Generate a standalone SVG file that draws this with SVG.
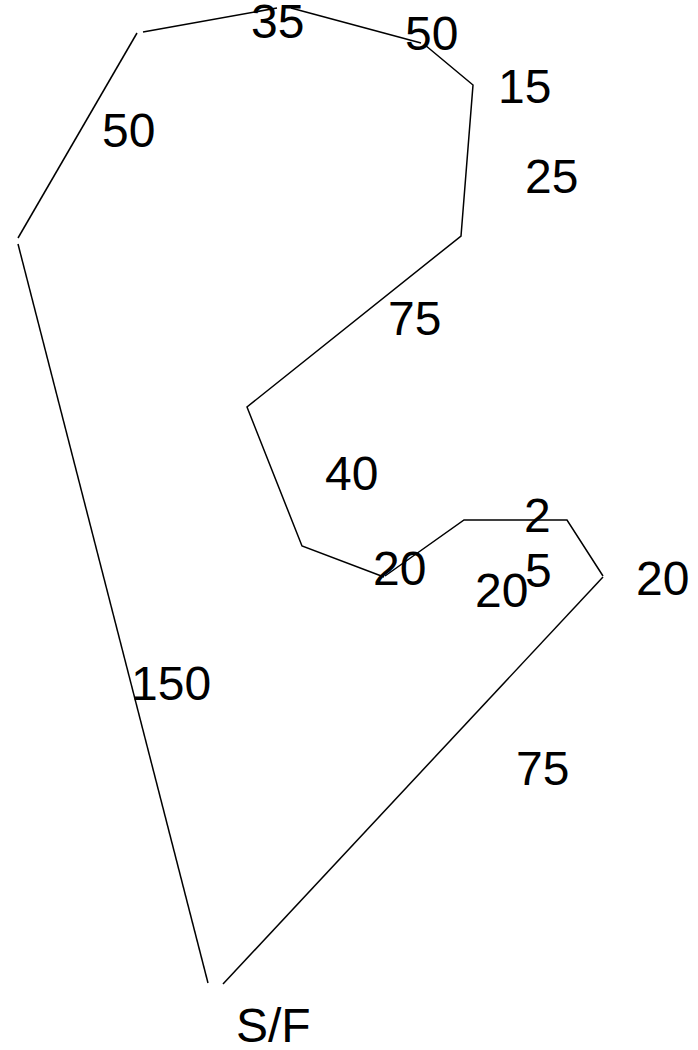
<svg xmlns="http://www.w3.org/2000/svg" width="698" height="1050" viewBox="0 0 698 1050">
<style>
.t{font-family:"Liberation Sans",Arial,sans-serif;font-size:48px;fill:#000}
.s{stroke:#000;stroke-width:1.5;fill:none;stroke-linecap:butt}
</style>
<rect width="698" height="1050" fill="#fff"/>
<g id="track" class="s">
<line x1="208" y1="983" x2="18" y2="244"/>
<line x1="18" y1="238" x2="137" y2="33"/>
<line x1="143" y1="32" x2="277" y2="8"/>
<line x1="291" y1="8" x2="421" y2="43"/>
<polyline points="425,45 473,85 461,236 247,407 302,546 384,577"/>
<polyline points="385,576 464,520 567,520 603,576"/>
<line x1="603" y1="577" x2="223" y2="984"/>
</g>
<g id="labels">
<text class="t" x="251" y="38">35</text>
<text class="t" x="405" y="50">50</text>
<text class="t" x="498" y="103">15</text>
<text class="t" x="525" y="193">25</text>
<text class="t" x="102" y="147">50</text>
<text class="t" x="388" y="335">75</text>
<text class="t" x="325" y="490">40</text>
<text class="t" x="524" y="532">2</text>
<text class="t" x="373" y="585">20</text>
<text class="t" x="525" y="587">5</text>
<text class="t" x="475" y="607">20</text>
<text class="t" x="636" y="595">20</text>
<text class="t" x="131" y="700">150</text>
<text class="t" x="516" y="785">75</text>
<text class="t" x="236" y="1042">S/F</text>
</g>
</svg>
